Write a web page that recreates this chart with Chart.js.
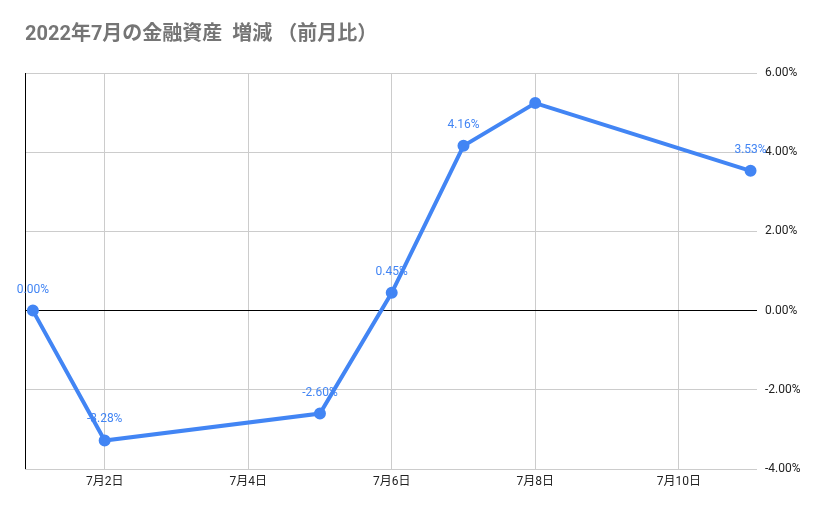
<!DOCTYPE html>
<html>
<head>
<meta charset="utf-8">
<script src="https://cdn.jsdelivr.net/npm/chart.js@4/dist/chart.umd.min.js"></script>
<style>
  html, body { margin: 0; padding: 0; background: #fff; }
  #wrap { width: 829px; height: 514px; }
</style>
</head>
<body>
<div id="wrap"><canvas id="chart"></canvas></div>
<script>
// days of July and month-over-month change (%)
let days = [1, 2, 5, 6, 7, 8, 11];
let changes = [0.0, -3.28, -2.6, 0.45, 4.16, 5.24, 3.53];
let pointLabels = ["0.00%", "-3.28%", "-2.60%", "0.45%", "4.16%", "", "3.53%"];
let xTickDays = [2, 4, 6, 8, 10];
let yTicks = [-4, -2, 0, 2, 4, 6];

const blue = "#4285F4";
const fontFamily = "Roboto, 'Noto Sans CJK JP', sans-serif";

// value labels above points + left axis line
const extras = {
  id: "extras",
  afterDatasetsDraw(chart) {
    const c = chart.ctx;
    const area = chart.chartArea;
    c.save();
    c.strokeStyle = "#000";
    c.lineWidth = 1;
    c.beginPath();
    c.moveTo(area.left + 0.5, area.top);
    c.lineTo(area.left + 0.5, area.bottom);
    c.stroke();

    const meta = chart.getDatasetMeta(0);
    c.fillStyle = blue;
    c.font = "12px " + fontFamily;
    c.textAlign = "center";
    c.textBaseline = "middle";
    meta.data.forEach((pt, i) => {
      if (pointLabels[i]) c.fillText(pointLabels[i], pt.x, pt.y - 21);
    });
    c.restore();
  },
};

let ctx = document.getElementById("chart").getContext("2d");
let lineChart = new Chart(ctx, {
  type: "line",
  data: {
    datasets: [
      {
        data: days.map((d, i) => ({ x: d, y: changes[i] })),
        borderColor: blue,
        backgroundColor: blue,
        borderWidth: 4,
        pointRadius: 4,
        pointHoverRadius: 4,
        tension: 0,
      },
    ],
  },
  options: {
    responsive: true,
    maintainAspectRatio: false,
    animation: false,
    layout: { padding: { left: 25, right: 0, top: 0, bottom: 0 } },
    plugins: {
      legend: { display: false },
      tooltip: { enabled: false },
      title: {
        display: true,
        text: "2022年7月の金融資産  増減 （前月比）",
        align: "start",
        color: "#757575",
        font: { family: fontFamily, size: 20, weight: "bold" },
        padding: { top: 23, bottom: 26 },
      },
    },
    scales: {
      x: {
        type: "linear",
        min: 0.89,
        max: 11.09,
        afterBuildTicks: (scale) => {
          scale.ticks = xTickDays.map((v) => ({ value: v }));
        },
        afterFit: (scale) => {
          scale.height = 45;
        },
        ticks: {
          autoSkip: false,
          maxRotation: 0,
          padding: 6,
          color: "#222",
          font: { family: fontFamily, size: 12 },
          callback: (v) => "7月" + v + "日",
        },
        grid: { color: "#cccccc", drawTicks: false },
        border: { display: false },
      },
      y: {
        position: "right",
        min: -4,
        max: 6,
        afterBuildTicks: (scale) => {
          scale.ticks = yTicks.map((v) => ({ value: v }));
        },
        afterFit: (scale) => {
          scale.width = 72;
        },
        ticks: {
          padding: 8,
          color: "#222",
          font: { family: fontFamily, size: 12 },
          callback: (v) => v.toFixed(2) + "%",
        },
        grid: {
          drawTicks: false,
          color: (c) => (c.tick && c.tick.value === 0 ? "#000" : "#cccccc"),
        },
        border: { display: false },
      },
    },
  },
  plugins: [extras],
});
</script>
</body>
</html>
